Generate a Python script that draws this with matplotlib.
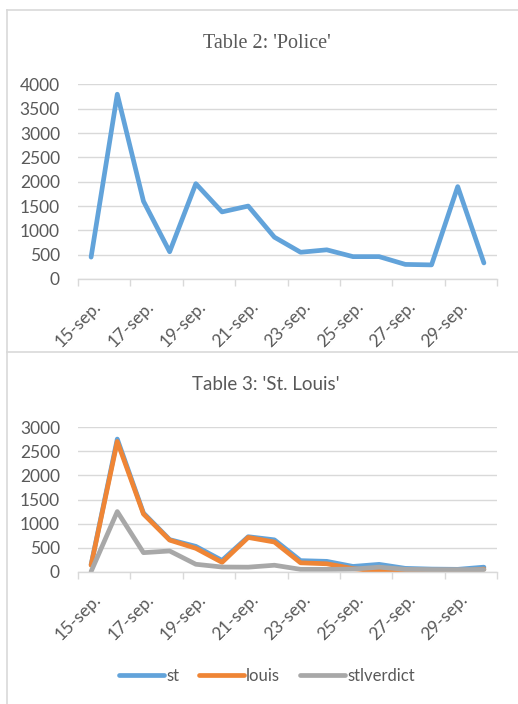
import matplotlib
matplotlib.use("Agg")
import matplotlib.pyplot as plt
from matplotlib.lines import Line2D
from matplotlib.transforms import ScaledTranslation
import numpy as np

# Daily counts, 15 to 30 September
days = [f"{d}-sep." for d in range(15, 31)]
police = [450, 3800, 1600, 560, 1960, 1380, 1500, 860, 550, 600, 460, 460, 300, 290, 1900, 330]
st = [150, 2750, 1220, 670, 530, 240, 730, 665, 235, 220, 115, 158, 75, 60, 55, 100]
louis = [140, 2700, 1200, 660, 490, 200, 715, 620, 190, 170, 70, 15, 5, 5, 10, 60]
stlverdict = [10, 1250, 400, 435, 160, 103, 100, 140, 55, 55, 60, 100, 55, 50, 50, 50]

BLUE = "#62a3da"
ORANGE = "#ef8535"
GREY = "#a8a8a8"
GRID = "#d9d9d9"
TEXT = "#595959"
SANS = ["Lato", "DejaVu Sans"]
FS = 12.5

W, H = 518, 704
fig = plt.figure(figsize=(W / 100, H / 100), dpi=100)


def px_box(x0, y0, x1, y1):
    return [x0 / W, 1 - y1 / H, (x1 - x0) / W, (y1 - y0) / H]


def style_axes(ax, ymax, step):
    n = len(days)
    ax.set_xlim(-0.5, n - 0.5)
    ax.set_ylim(0, ymax)
    ax.set_yticks(np.arange(0, ymax + 1, step))
    ax.yaxis.grid(True, color=GRID, lw=1.0)
    ax.set_axisbelow(True)
    for s in ("left", "right", "top"):
        ax.spines[s].set_visible(False)
    ax.spines["bottom"].set_color(GRID)
    ax.spines["bottom"].set_linewidth(1.0)
    # tick marks on category boundaries, every second category
    ax.set_xticks(np.arange(-0.5, n, 2))
    ax.set_xticklabels([])
    ax.tick_params(axis="x", which="major", length=5, width=1, color=GRID, direction="out")
    # labels centred on every second category
    ax.set_xticks(np.arange(0, n, 2), minor=True)
    ax.set_xticklabels(days[::2], minor=True, rotation=45, ha="right", va="top",
                       rotation_mode="anchor", family=SANS, fontsize=FS, color=TEXT)
    ax.tick_params(axis="x", which="minor", length=0, pad=14)
    shift = ScaledTranslation(1.5 / 72, 0, fig.dpi_scale_trans)
    for lab in ax.get_xticklabels(minor=True):
        lab.set_transform(lab.get_transform() + shift)
    ax.tick_params(axis="y", length=0, pad=13, labelcolor=TEXT, labelsize=FS)
    for lab in ax.get_yticklabels():
        lab.set_family(SANS)


line_kw = dict(lw=3.4, solid_capstyle="round", solid_joinstyle="round")
x = np.arange(len(days))

# Top chart: police
ax1 = fig.add_axes(px_box(78, 84.5, 497, 279))
ax1.plot(x, police, color=BLUE, **line_kw)
style_axes(ax1, 4000, 500)
fig.text(267 / W, 1 - 44 / H, "Table 2: 'Police'", ha="center", va="center",
         family=["Liberation Serif"], fontsize=14.5, color=TEXT)

# Bottom chart: St. Louis keywords
ax2 = fig.add_axes(px_box(78, 427, 497, 572))
ax2.plot(x, st, color=BLUE, label="st", **line_kw)
ax2.plot(x, louis, color=ORANGE, label="louis", **line_kw)
ax2.plot(x, stlverdict, color=GREY, label="stlverdict", **line_kw)
style_axes(ax2, 3000, 500)
fig.text(266 / W, 1 - 385 / H, "Table 3: 'St. Louis'", ha="center", va="center",
         family=SANS, fontsize=13.5, color=TEXT)

leg = fig.legend(loc="center", bbox_to_anchor=(267 / W, 1 - 676 / H), ncol=3,
                 frameon=False, handlelength=2.7, handletextpad=0.12, columnspacing=1.2,
                 prop={"family": SANS, "size": 12})
for t in leg.get_texts():
    t.set_color(TEXT)

# Panel frames
for (x0, y0, x1, y1) in [(7, 10, W, 10), (7, 10, 7, H), (7, 352, W, 352)]:
    fig.add_artist(Line2D([x0 / W, x1 / W], [1 - y0 / H, 1 - y1 / H],
                          transform=fig.transFigure, color=GRID, lw=1.2))

fig.savefig("out.png", dpi=100, facecolor="white")
